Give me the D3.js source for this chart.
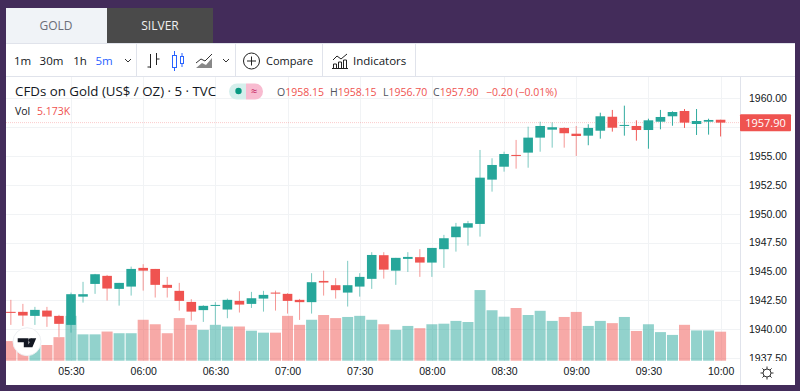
<!DOCTYPE html>
<html>
<head>
<meta charset="utf-8">
<script src="https://cdn.jsdelivr.net/npm/d3@7"></script>
<style>
html,body{margin:0;padding:0;background:#432c5a;}
svg{display:block;font-family:"Open Sans","Noto Sans",sans-serif;}
</style>
</head>
<body>
<svg id="c" width="800" height="391"></svg>
<script>
const opens=[1941.50,1941.50,1941.15,1941.61,1941.15,1940.37,1942.82,1943.92,1944.62,1943.49,
1943.69,1945.31,1945.22,1943.84,1943.32,1942.36,1941.65,1942.04,1941.70,1942.45,
1942.19,1942.65,1943.17,1943.06,1942.54,1942.34,1944.18,1943.81,1943.17,1943.69,
1944.36,1946.41,1945.07,1946.09,1946.24,1945.77,1946.93,1947.97,1948.80,1949.12,
1952.96,1954.08,1955.10,1955.30,1956.60,1957.29,1957.44,1956.94,1956.77,1957.20,
1958.41,1957.63,1957.61,1957.26,1957.98,1958.45,1958.91,1957.78,1957.98,1958.15];
const highs=[1942.54,1942.19,1941.93,1941.93,1941.24,1943.17,1944.10,1944.79,1944.70,1944.01,
1945.42,1945.63,1945.22,1944.53,1944.01,1942.60,1942.08,1942.34,1942.65,1943.29,
1943.23,1943.32,1943.34,1943.12,1942.62,1944.85,1945.07,1944.42,1945.92,1944.85,
1946.67,1946.67,1946.18,1946.67,1946.93,1947.04,1948.17,1949.21,1949.38,1955.53,
1954.81,1955.38,1956.40,1957.55,1957.98,1957.93,1957.50,1957.61,1957.76,1958.76,
1959.00,1959.37,1958.10,1958.24,1959.00,1958.88,1959.08,1959.08,1958.24,1958.15];
const lows=[1940.37,1940.28,1940.37,1940.20,1939.33,1939.70,1942.30,1943.06,1942.48,1942.04,
1942.91,1943.34,1942.74,1942.74,1941.61,1940.74,1940.63,1940.37,1940.95,1941.44,
1941.84,1941.52,1941.61,1941.35,1940.80,1941.35,1942.91,1942.65,1941.96,1942.82,
1943.49,1944.38,1943.84,1944.96,1944.53,1944.53,1945.31,1946.72,1947.24,1948.02,
1951.92,1953.65,1953.91,1953.99,1955.38,1955.73,1955.73,1955.01,1955.94,1956.51,
1957.12,1956.77,1956.34,1955.64,1957.32,1957.63,1957.44,1956.83,1956.86,1956.70];
const closes=[1941.41,1941.18,1941.67,1941.09,1940.46,1943.03,1943.03,1944.76,1943.52,1944.01,
1945.22,1945.07,1943.84,1943.58,1942.45,1941.52,1942.02,1942.10,1942.54,1942.13,
1942.68,1942.97,1943.08,1942.45,1942.34,1944.07,1944.04,1943.38,1943.81,1944.53,
1946.43,1945.16,1946.18,1946.26,1945.77,1947.04,1947.88,1948.89,1949.18,1953.13,
1954.23,1955.18,1955.01,1956.60,1957.61,1957.50,1956.98,1956.74,1957.44,1958.45,
1957.46,1957.70,1957.26,1958.10,1958.39,1958.82,1957.90,1958.04,1958.13,1957.90];
const volumes=[3.5,3.5,2.6,2.8,4.2,8.0,4.7,4.7,5.2,4.9,
4.9,7.3,6.5,4.9,7.6,6.4,5.5,6.4,6.1,6.1,
5.35,5.0,5.0,8.0,6.4,7.3,8.15,7.6,7.8,8.0,
7.3,6.5,5.5,6.2,5.8,6.5,6.6,7.1,6.9,12.6,
9.0,7.85,9.4,8.15,8.9,7.1,7.8,8.7,6.2,7.1,
6.7,7.8,5.3,6.5,5.1,4.6,6.4,5.4,5.4,5.173];
const gridTicks=[1960,1957.5,1955,1952.5,1950,1947.5,1945,1942.5,1940,1937.5];
const priceLabels=[1960,1955,1952.5,1950,1947.5,1945,1942.5,1940,1937.5];
const timeTickLabels=["05:30","06:00","06:30","07:00","07:30","08:00","08:30","09:00","09:30","10:00"];
const intervals=["1m","30m","1h","5m"];
const tabs=["GOLD","SILVER"];
const symbolTitle="CFDs on Gold (US$ / OZ) · 5 · TVC";
const legendOHLC=[["O","1958.15"],["H","1958.15"],["L","1956.70"],["C","1957.90"]];
const lastChange="−0.20 (−0.01%)";
const volLabel="5.173K";

const UP="#26a69a",DOWN="#ef5350",TXT="#131722",GRID="#f1f3f5";
const parseT=d3.timeParse("%H:%M");
const times=opens.map((_,i)=>new Date(parseT("05:05").getTime()+i*300000));
const svg=d3.select("#c");
const L=6,R=795,T=43,B=385,AX=740,CT=77,CB=361;

const x=d3.scaleTime().domain([parseT("05:30"),parseT("10:00")]).range([71,720.6]);
const y=d3.scaleLinear().domain([1960,1937.5]).range([98.4,358]);
const v=d3.scaleLinear().domain([0,5.173]).range([360.7,331.7]);
const barW=11,bodyW=9.6;

// panels
svg.append("rect").attr("x",L).attr("y",T).attr("width",R-L).attr("height",B-T).attr("fill","#fff");
svg.append("rect").attr("x",L).attr("y",8).attr("width",101).attr("height",35).attr("fill","#f0f3f7");
svg.append("rect").attr("x",107).attr("y",8).attr("width",106).attr("height",35).attr("fill","#4a4a4a");
svg.selectAll("text.tab").data(tabs).join("text").attr("class","tab")
  .attr("x",(d,i)=>i?160:56).attr("y",30).attr("text-anchor","middle").attr("font-size",12)
  .attr("fill",(d,i)=>i?"#f0f0f0":"#6a6d78").text(d=>d);

// toolbar
const hline=(yy)=>svg.append("line").attr("x1",L).attr("x2",R).attr("y1",yy).attr("y2",yy).attr("stroke","#e0e3eb");
hline(43.5);hline(76.5);
[136.5,235.5,322.5,415.5].forEach(p=>svg.append("line").attr("x1",p).attr("x2",p).attr("y1",44).attr("y2",76).attr("stroke","#e0e3eb"));
const ivx=[22.5,51.5,80,104];
svg.selectAll("text.iv").data(intervals).join("text").attr("class","iv")
  .attr("x",(d,i)=>ivx[i]).attr("y",65).attr("text-anchor","middle").attr("font-size",11.5)
  .attr("fill",(d,i)=>i==3?"#2962ff":TXT).text(d=>d);
const chev=(cx)=>svg.append("path").attr("d",`M${cx-3},59 l3,3 l3,-3`).attr("fill","none").attr("stroke","#333").attr("stroke-width",1);
chev(128);chev(226);
// bar icon
svg.append("path").attr("d","M150.5,54v14M150.5,67h-3M156.5,53v12M156.5,59h3").attr("fill","none").attr("stroke","#222");
// candle icon
const ci=svg.append("g").attr("fill","none").attr("stroke","#2962ff");
ci.append("rect").attr("x",172.5).attr("y",55.5).attr("width",4).attr("height",12);
ci.append("rect").attr("x",180.5).attr("y",56.5).attr("width",3).attr("height",7);
ci.append("path").attr("d","M174.5,51v4M174.5,68v3M182,53v3M182,64v3");
// area icon
svg.append("path").attr("d","M196,68 L202,63 L206,65 L212,58 V68 Z").attr("fill","#888");
svg.append("path").attr("d","M196,63 L201,59 L205,61 L212,54").attr("fill","none").attr("stroke","#333");
// compare
svg.append("circle").attr("cx",251.5).attr("cy",61).attr("r",8).attr("fill","none").attr("stroke","#222");
svg.append("path").attr("d","M251.5,56.5v9M247,61h9").attr("stroke","#222");
svg.append("text").attr("x",266).attr("y",65).attr("font-size",11).attr("fill",TXT).text("Compare");
// indicators
svg.append("path").attr("d","M333,60l4,-4 4,3 6,-5M333.5,68v-4h3v4M338.5,68v-6h3v6M343.5,68v-8h3v8M332,68.5h16").attr("fill","none").attr("stroke","#222");
svg.append("text").attr("x",353).attr("y",65).attr("font-size",11.5).attr("fill",TXT).text("Indicators");

// grid
const clip=svg.append("defs");
clip.append("clipPath").attr("id","pane").append("rect").attr("x",L).attr("y",CT).attr("width",AX-L).attr("height",CB-CT);
clip.append("clipPath").attr("id","pax").append("rect").attr("x",AX).attr("y",CT).attr("width",R-AX).attr("height",CB-CT);
const timeTicks=timeTickLabels.map(parseT);
const grid=svg.append("g").attr("stroke",GRID);
grid.selectAll("line.h").data(gridTicks).join("line").attr("class","h")
  .attr("x1",L).attr("x2",AX).attr("y1",d=>Math.round(y(d))+.5).attr("y2",d=>Math.round(y(d))+.5);
grid.selectAll("line.v").data(timeTicks).join("line").attr("class","v")
  .attr("y1",CT).attr("y2",CB).attr("x1",d=>Math.round(x(d))+.5).attr("x2",d=>Math.round(x(d))+.5);

// volumes
const pane=svg.append("g").attr("clip-path","url(#pane)");
pane.selectAll("rect.vol").data(volumes).join("rect").attr("class","vol")
  .attr("x",(d,i)=>x(times[i])-barW/2).attr("width",barW)
  .attr("y",d=>v(d)).attr("height",d=>v(0)-v(d))
  .attr("fill",(d,i)=>closes[i]>=opens[i]?UP:DOWN).attr("opacity",.5);

// last price line
pane.append("line").attr("x1",L).attr("x2",AX).attr("y1",y(closes[59])).attr("y2",y(closes[59]))
  .attr("stroke",DOWN).attr("stroke-opacity",.3).attr("stroke-dasharray","1 1");

// candles
const cg=pane.selectAll("g.k").data(opens).join("g").attr("class","k");
cg.append("line").attr("x1",(d,i)=>x(times[i])).attr("x2",(d,i)=>x(times[i]))
  .attr("y1",(d,i)=>y(highs[i])).attr("y2",(d,i)=>y(lows[i]))
  .attr("stroke",(d,i)=>closes[i]>=opens[i]?UP:DOWN).attr("stroke-width",1).attr("stroke-opacity",(d,i)=>i<48?.6:.95);
cg.append("rect").attr("x",(d,i)=>x(times[i])-bodyW/2).attr("width",bodyW)
  .attr("y",(d,i)=>y(Math.max(opens[i],closes[i])))
  .attr("height",(d,i)=>Math.max(1,Math.abs(y(opens[i])-y(closes[i]))))
  .attr("fill",(d,i)=>closes[i]>=opens[i]?UP:DOWN);

// axis frames
svg.append("line").attr("x1",AX+.5).attr("x2",AX+.5).attr("y1",CT).attr("y2",B).attr("stroke","#e0e3eb");

// price axis
const pa=svg.append("g").attr("clip-path","url(#pax)").append("g").attr("transform",`translate(${AX},0)`)
  .call(d3.axisRight(y).tickValues(priceLabels).tickSize(0).tickPadding(9).tickFormat(d3.format(".2f")));
pa.select(".domain").remove();
pa.selectAll("text").attr("font-family","inherit").attr("font-size",10.5).attr("fill",TXT);

// time axis
const ta=svg.append("g").attr("transform",`translate(0,${CB})`)
  .call(d3.axisBottom(x).tickValues(timeTicks).tickSize(0).tickPadding(7).tickFormat(d3.timeFormat("%H:%M")));
ta.select(".domain").remove();
ta.selectAll("text").attr("font-family","inherit").attr("font-size",10.5).attr("fill",TXT);

// last price tag
svg.append("rect").attr("x",AX).attr("y",y(closes[59])-8.5).attr("width",51).attr("height",17).attr("rx",1).attr("fill",DOWN);
svg.append("text").attr("x",AX+25.5).attr("y",y(closes[59])+4).attr("text-anchor","middle").attr("font-size",11).attr("fill","#fff").text(d3.format(".2f")(closes[59]));

// legend
svg.append("text").attr("x",15).attr("y",96).attr("font-size",13.3).attr("fill",TXT).text(symbolTitle);
svg.append("path").attr("d","M246,83.5h-9a8,8 0 0 0 0,16h9z").attr("fill","#d5efec");
svg.append("path").attr("d","M246,83.5h9a8,8 0 0 1 0,16h-9z").attr("fill","#f8bbd0");
svg.append("circle").attr("cx",238.5).attr("cy",91).attr("r",3.2).attr("fill","#089981");
svg.append("text").attr("x",254).attr("y",95).attr("text-anchor","middle").attr("font-size",11).attr("fill","#c2185b").text("≈");
const lx=[277,330,383,433];
legendOHLC.forEach((d,i)=>{
  const t=svg.append("text").attr("x",lx[i]).attr("y",96).attr("font-size",10.5);
  t.append("tspan").attr("fill","#50535e").text(d[0]);
  t.append("tspan").attr("fill",DOWN).text(d[1]);
});
svg.append("text").attr("x",486).attr("y",96).attr("font-size",10.5).attr("fill",DOWN).text(lastChange);
svg.append("text").attr("x",15).attr("y",115).attr("font-size",10.5).attr("fill",TXT).text("Vol");
svg.append("text").attr("x",37).attr("y",115).attr("font-size",10.5).attr("fill",DOWN).text(volLabel);

// TV logo
svg.append("circle").attr("cx",27).attr("cy",341.7).attr("r",14).attr("fill","#fff").attr("stroke","#eef0f3");
svg.append("path").attr("d","M17.7,338.3H28.5V347.3H23.8V342.2H17.7Z M31,338.3H36.2L32.4,347.3H27.5Z").attr("fill","#131722");
svg.append("circle").attr("cx",30.3).attr("cy",340.2).attr("r",1.9).attr("fill","#131722");

// sun icon
const sun=svg.append("g").attr("transform","translate(767,373)").attr("stroke","#333").attr("fill","none");
sun.append("circle").attr("r",4);
d3.range(8).forEach(i=>{const a=i*Math.PI/4;sun.append("line").attr("x1",4*Math.cos(a)).attr("y1",4*Math.sin(a)).attr("x2",6.5*Math.cos(a)).attr("y2",6.5*Math.sin(a));});
</script>
</body>
</html>
